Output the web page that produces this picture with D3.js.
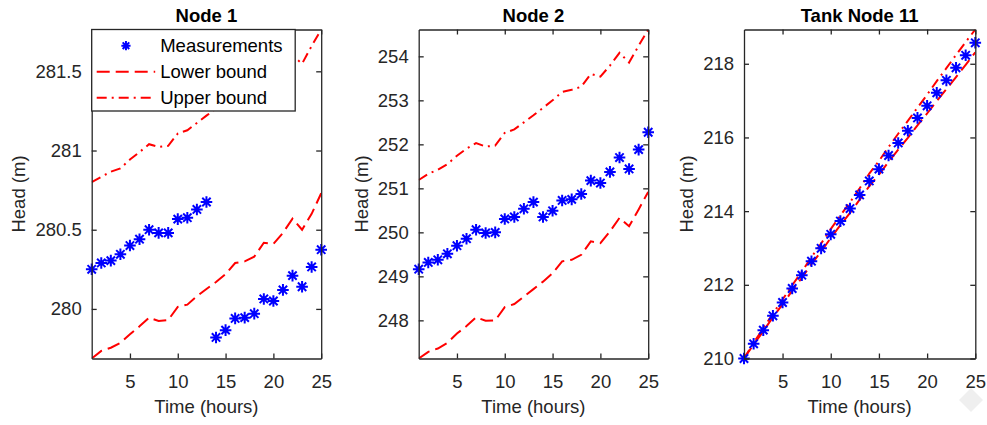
<!DOCTYPE html>
<html>
<head>
<meta charset="utf-8">
<script src="https://cdn.jsdelivr.net/npm/d3@7/dist/d3.min.js"></script>
<style>
  html, body { margin: 0; padding: 0; background: #fff; }
  svg { display: block; }
  text { font-family: "Liberation Sans", Arial, Helvetica, sans-serif; }
</style>
</head>
<body>
<svg id="chart" width="987" height="425"></svg>
<script>
// ---------------- data ----------------
const hours = [1,2,3,4,5,6,7,8,9,10,11,12,13,14,15,16,17,18,19,20,21,22,23,24,25];
const xTicks = [5, 10, 15, 20, 25];
const titles = ["Node 1", "Node 2", "Tank Node 11"];
const xLabel = "Time (hours)";
const yLabel = "Head (m)";
const legendLabels = ["Measurements", "Lower bound", "Upper bound"];

const node1Meas  = [280.25, 280.29, 280.305, 280.345, 280.40, 280.44, 280.50, 280.48, 280.48, 280.567, 280.576, 280.628, 280.675,
                    279.82, 279.866, 279.94, 279.945, 279.97, 280.063, 280.05, 280.12, 280.21, 280.14, 280.265, 280.374];
const node1Lower = [279.687, 279.735, 279.755, 279.786, 279.84, 279.89, 279.945, 279.924, 279.93, 280.013, 280.027, 280.08, 280.126,
                    280.17, 280.22, 280.29, 280.30, 280.33, 280.418, 280.41, 280.48, 280.57, 280.50, 280.60, 280.73];
const node1Upper = [280.80, 280.834, 280.866, 280.887, 280.943, 280.99, 281.04, 281.023, 281.03, 281.107, 281.128, 281.174, 281.22,
                    281.265, 281.31, 281.38, 281.39, 281.42, 281.51, 281.50, 281.565, 281.60, 281.548, 281.66, 281.764];
const node1YTicks = [280, 280.5, 281, 281.5];

const node2Meas  = [249.163, 249.316, 249.376, 249.513, 249.696, 249.856, 250.06, 249.985, 250.0, 250.304, 250.35, 250.535, 250.687,
                    250.35, 250.49, 250.725, 250.75, 250.87, 251.176, 251.12, 251.374, 251.70, 251.44, 251.88, 252.275];
const node2Lower = [247.133, 247.285, 247.36, 247.49, 247.70, 247.87, 248.07, 247.99, 248.0, 248.30, 248.37, 248.54, 248.71,
                    248.88, 249.07, 249.34, 249.376, 249.49, 249.795, 249.757, 250.02, 250.33, 250.14, 250.52, 250.92];
const node2Upper = [251.19, 251.33, 251.42, 251.55, 251.74, 251.90, 252.03, 251.95, 251.97, 252.26, 252.34, 252.50, 252.66,
                    252.83, 253.0, 253.19, 253.24, 253.31, 253.60, 253.54, 253.79, 254.08, 253.86, 254.24, 254.61];
const node2YTicks = [248, 249, 250, 251, 252, 253, 254];

const tankMeas  = [210.0, 210.40, 210.77, 211.16, 211.52, 211.90, 212.26, 212.64, 212.99, 213.37, 213.73, 214.07, 214.44,
                   214.82, 215.14, 215.51, 215.85, 216.18, 216.53, 216.86, 217.21, 217.55, 217.89, 218.23, 218.57];
const tankLower = [210.0, 210.38, 210.74, 211.12, 211.47, 211.84, 212.19, 212.56, 212.90, 213.27, 213.62, 213.95, 214.31,
                   214.68, 214.99, 215.34, 215.67, 215.99, 216.33, 216.65, 216.99, 217.31, 217.64, 217.97, 218.31];
const tankUpper = [210.0, 210.43, 210.82, 211.22, 211.60, 211.99, 212.36, 212.75, 213.12, 213.51, 213.88, 214.24, 214.62,
                   215.02, 215.36, 215.74, 216.10, 216.45, 216.81, 217.16, 217.53, 217.88, 218.24, 218.59, 218.93];
const tankYTicks = [210, 212, 214, 216, 218];

// ---------------- layout ----------------
const svg = d3.select("#chart");
const FS = 18.5;
const axisColor = "#262626";
const red = "#ff0000";
const blue = "#0000ff";
const axTop = 29.5, axBottom = 358.5;
const panels = [
  { left: 91.7,  width: 229.5, meas: node1Meas, lower: node1Lower, upper: node1Upper, yTicks: node1YTicks, legend: true,  ylabOff: 66.5 },
  { left: 418.7, width: 229.5, meas: node2Meas, lower: node2Lower, upper: node2Upper, yTicks: node2YTicks, legend: false, ylabOff: 50.5 },
  { left: 744,   width: 231.3, meas: tankMeas,  lower: tankLower,  upper: tankUpper,  yTicks: tankYTicks,  legend: false, ylabOff: 51 }
];

function starPath(s) {
  const d = s * 0.72;
  return `M${-s},0L${s},0M0,${-s}L0,${s}M${-d},${-d}L${d},${d}M${-d},${d}L${d},${-d}`;
}

// faint watermark diamond
svg.append("path")
  .attr("d", "M971,388L983,400L971,412L959,400Z")
  .attr("fill", "#efefef");

panels.forEach((p, i) => {
  const x = d3.scaleLinear().domain(d3.extent(hours)).range([p.left, p.left + p.width]);
  const allY = p.lower.concat(p.upper, p.meas);
  const y = d3.scaleLinear().domain(d3.extent(allY)).range([axBottom, axTop]);
  const g = svg.append("g");

  const clipId = "clip" + i;
  svg.append("clipPath").attr("id", clipId)
    .append("rect").attr("x", p.left).attr("y", axTop).attr("width", p.width).attr("height", axBottom - axTop);

  const plot = g.append("g").attr("clip-path", `url(#${clipId})`);
  const line = d3.line().x((d, k) => x(hours[k])).y(d => y(d));

  plot.append("path").datum(p.lower).attr("d", line)
    .attr("fill", "none").attr("stroke", red).attr("stroke-width", 2)
    .attr("stroke-dasharray", "13,6");
  plot.append("path").datum(p.upper).attr("d", line)
    .attr("fill", "none").attr("stroke", red).attr("stroke-width", 2)
    .attr("stroke-dasharray", "10,5,2,5");

  g.append("g").selectAll("path").data(p.meas).join("path")
    .attr("transform", (d, k) => `translate(${x(hours[k])},${y(d)})`)
    .attr("d", starPath(5.8))
    .attr("fill", "none").attr("stroke", blue).attr("stroke-width", 2);

  // axes (box with inward ticks)
  const ax = [
    g.append("g").attr("transform", `translate(0,${axBottom})`)
      .call(d3.axisBottom(x).tickValues(xTicks).tickSizeInner(-5).tickSizeOuter(0).tickPadding(16.4)),
    g.append("g").attr("transform", `translate(0,${axTop})`)
      .call(d3.axisTop(x).tickValues(xTicks).tickSizeInner(-5).tickSizeOuter(0).tickFormat("")),
    g.append("g").attr("transform", `translate(${p.left},0)`)
      .call(d3.axisLeft(y).tickValues(p.yTicks).tickSizeInner(-5).tickSizeOuter(0).tickPadding(10).tickFormat(d3.format("~g"))),
    g.append("g").attr("transform", `translate(${p.left + p.width},0)`)
      .call(d3.axisRight(y).tickValues(p.yTicks).tickSizeInner(-5).tickSizeOuter(0).tickFormat(""))
  ];
  ax.forEach(a => {
    a.select(".domain").attr("stroke", axisColor).attr("stroke-width", 1.3);
    a.selectAll(".tick line").attr("stroke", axisColor).attr("stroke-width", 1.3);
    a.selectAll(".tick text").attr("fill", axisColor).attr("font-size", FS)
      .attr("font-family", '"Liberation Sans", Arial, Helvetica, sans-serif');
  });

  // title
  g.append("text").attr("x", p.left + p.width / 2).attr("y", 22)
    .attr("text-anchor", "middle").attr("font-weight", "bold").attr("font-size", FS)
    .attr("fill", "#000").text(titles[i]);
  // x label
  g.append("text").attr("x", p.left + p.width / 2).attr("y", 412.5)
    .attr("text-anchor", "middle").attr("font-size", FS).attr("fill", axisColor).text(xLabel);
  // y label
  const cy = (axTop + axBottom) / 2;
  const lx = p.left - p.ylabOff;
  g.append("text").attr("transform", `translate(${lx},${cy}) rotate(-90)`)
    .attr("text-anchor", "middle").attr("font-size", FS).attr("fill", axisColor).text(yLabel);

  if (p.legend) {
    const lg = g.append("g");
    lg.append("rect").attr("x", p.left).attr("y", axTop).attr("width", 203.5).attr("height", 81.5)
      .attr("fill", "#fff").attr("stroke", axisColor).attr("stroke-width", 1.3);
    const rows = [45.7, 71.7, 97.7];
    const sx0 = p.left + 5, sx1 = p.left + 63.5, tx = p.left + 68.5;
    lg.append("path").attr("d", starPath(4.6))
      .attr("transform", `translate(${(sx0 + sx1) / 2},${rows[0]})`)
      .attr("fill", "none").attr("stroke", blue).attr("stroke-width", 2);
    lg.append("line").attr("x1", sx0).attr("x2", sx1).attr("y1", rows[1]).attr("y2", rows[1])
      .attr("stroke", red).attr("stroke-width", 2).attr("stroke-dasharray", "13,6");
    lg.append("line").attr("x1", sx0).attr("x2", sx1).attr("y1", rows[2]).attr("y2", rows[2])
      .attr("stroke", red).attr("stroke-width", 2).attr("stroke-dasharray", "10,5,2,5");
    legendLabels.forEach((t, k) => {
      lg.append("text").attr("x", tx).attr("y", rows[k]).attr("dy", "0.35em")
        .attr("font-size", FS).attr("fill", "#000").text(t);
    });
  }
});
</script>
</body>
</html>
